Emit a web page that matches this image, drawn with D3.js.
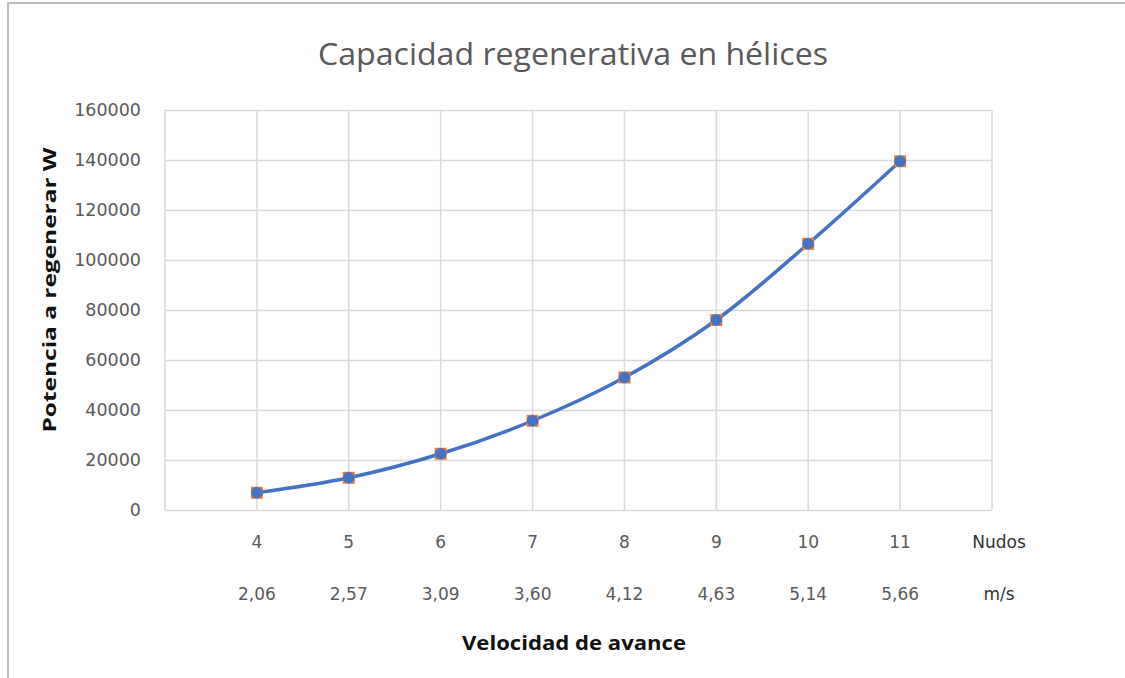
<!DOCTYPE html>
<html>
<head>
<meta charset="utf-8">
<script src="https://cdn.jsdelivr.net/npm/d3@7"></script>
<style>
  body { margin: 0; background: #fff; }
  svg { display: block; }
</style>
</head>
<body>
<div id="chart"></div>
<script>
// values
var nudos = [4, 5, 6, 7, 8, 9, 10, 11];
var metrosSeg = ["2,06", "2,57", "3,09", "3,60", "4,12", "4,63", "5,14", "5,66"];
var potencia = [6900, 12900, 22500, 35700, 53000, 76000, 106500, 139500];
var yTicks = [0, 20000, 40000, 60000, 80000, 100000, 120000, 140000, 160000];
var xDomain = [3, 12];

var width = 1125, height = 678;
var margin = {top: 110, right: 133, bottom: 168, left: 165};
var w = width - margin.left - margin.right,
    h = height - margin.top - margin.bottom;

var svg = d3.select("#chart").append("svg").attr("width", width).attr("height", height);

// chart frame (cut at the right and bottom, as in the screenshot)
svg.append("path")
	.attr("d", "M8," + height + " V3 H" + width)
	.attr("fill", "none")
	.attr("stroke", "#bdbdbd")
	.attr("stroke-width", 2);

svg.append("text")
	.attr("x", 573).attr("y", 65)
	.attr("text-anchor", "middle")
	.attr("textLength", 510).attr("lengthAdjust", "spacingAndGlyphs")
	.style("font-family", "'Open Sans', sans-serif")
	.style("font-weight", 400)
	.style("font-size", "31px")
	.style("fill", "#595959")
	.text("Capacidad regenerativa en hélices");

var g = svg.append("g").attr("transform", "translate(" + margin.left + "," + margin.top + ")");

var x = d3.scaleLinear().domain(xDomain).range([0, w]);
var y = d3.scaleLinear().domain([0, 160000]).range([h, 0]);

// horizontal gridlines + y labels
var yAxis = g.append("g")
	.call(d3.axisLeft(y).tickValues(yTicks).tickSize(-w).tickPadding(24).tickFormat(d3.format("d")));
yAxis.select(".domain").remove();
yAxis.selectAll("line").attr("stroke", "#d9d9d9").attr("stroke-width", 1.5);
yAxis.selectAll("text")
	.style("font-family", "'DejaVu Sans', sans-serif")
	.style("font-size", "17.5px")
	.style("fill", "#595959");

// vertical gridlines
g.append("g").selectAll("line")
	.data(d3.range(xDomain[0], xDomain[1] + 1))
	.enter().append("line")
		.attr("x1", d => x(d)).attr("x2", d => x(d))
		.attr("y1", 0).attr("y2", h)
		.attr("stroke", "#d9d9d9")
		.attr("stroke-width", 1.5);

// two rows of category labels (knots and m/s)
var labelStyle = function(sel, color) {
	sel.style("font-family", "'DejaVu Sans', sans-serif")
		.style("font-size", "17px")
		.style("fill", color)
		.attr("text-anchor", "middle");
};
g.append("g").selectAll("text")
	.data(nudos).enter().append("text")
		.attr("x", d => x(d)).attr("y", h + 38)
		.text(d => d)
		.call(labelStyle, "#595959");
g.append("g").selectAll("text")
	.data(metrosSeg).enter().append("text")
		.attr("x", (d, i) => x(nudos[i])).attr("y", h + 90)
		.text(d => d)
		.call(labelStyle, "#595959");
g.append("text")
	.attr("x", x(12) + 7).attr("y", h + 38)
	.text("Nudos").call(labelStyle, "#333");
g.append("text")
	.attr("x", x(12) + 7).attr("y", h + 90)
	.text("m/s").call(labelStyle, "#333");

// axis titles
svg.append("text")
	.attr("x", 574).attr("y", 650)
	.attr("text-anchor", "middle")
	.attr("textLength", 224).attr("lengthAdjust", "spacingAndGlyphs")
	.style("font-family", "'Open Sans', sans-serif")
	.style("font-weight", 700)
	.style("font-size", "20px")
	.style("fill", "#111")
	.text("Velocidad  de avance");

svg.append("text")
	.attr("transform", "translate(56,290) rotate(-90)")
	.attr("text-anchor", "middle")
	.attr("textLength", 285).attr("lengthAdjust", "spacingAndGlyphs")
	.style("font-family", "'Open Sans', sans-serif")
	.style("font-weight", 700)
	.style("font-size", "18px")
	.style("fill", "#111")
	.text("Potencia  a  regenerar  W");

// smoothed series line
var line = d3.line()
	.x((d, i) => x(nudos[i]))
	.y(d => y(d))
	.curve(d3.curveCatmullRom.alpha(0.5));

g.append("path")
	.datum(potencia)
	.attr("d", line)
	.attr("fill", "none")
	.attr("stroke", "#4472c4")
	.attr("stroke-width", 3.5);

// markers: orange square under a blue dot
var pts = g.append("g").selectAll("g")
	.data(potencia).enter().append("g")
		.attr("transform", (d, i) => "translate(" + x(nudos[i]) + "," + y(d) + ")");
pts.append("rect")
	.attr("x", -6).attr("y", -6).attr("width", 12).attr("height", 12)
	.attr("fill", "#ed7d31");
pts.append("circle")
	.attr("r", 5.8)
	.attr("fill", "#4472c4");
</script>
</body>
</html>
